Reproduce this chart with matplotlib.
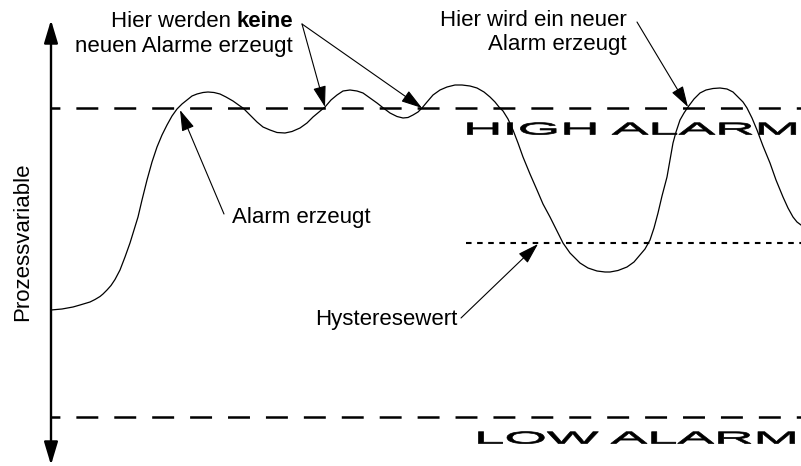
import matplotlib
matplotlib.use('Agg')
import matplotlib.pyplot as plt
from matplotlib import patheffects
from matplotlib.transforms import Affine2D

plt.rcParams['font.family'] = ['Liberation Sans', 'DejaVu Sans']
plt.rcParams['lines.scale_dashes'] = False

# process variable (pixel coords, y grows downwards)
curve_x = [51, 62, 73, 80, 90, 95, 100, 103, 107, 111, 115, 120, 125, 130, 134, 138, 142,
           147, 152, 157, 162, 167, 172, 177, 182, 187, 192, 197, 203, 208, 214, 220, 226,
           233, 240, 243, 250, 257, 263, 270, 277, 285, 292, 300, 307, 313, 319, 325, 331,
           337, 343, 350, 357, 363, 370, 377, 384, 390, 397, 403, 408, 413, 418, 422,
           427, 433, 440, 447, 455, 462, 470, 477, 484, 490, 495, 499, 503, 508, 513,
           518, 523, 530, 537, 543, 550, 557, 563, 570, 580, 588, 597, 605, 610, 618,
           627, 634, 640, 645, 650, 654, 658, 662, 667, 670, 673, 676, 680, 684, 688,
           694, 700, 706, 713, 720, 727, 733, 738, 743, 747, 752, 757, 763, 770, 776,
           783, 788, 793, 797, 801]
curve_y = [310, 309, 307, 305, 302, 299.5, 296.5, 294, 290, 285.5, 279.5, 270, 257, 243, 230,
           217, 200, 180, 162, 147, 135, 125, 116, 109, 104, 100, 96, 94, 92.5, 92, 92.5,
           94, 97, 101, 106, 108, 115, 122, 127, 130, 132.5, 133, 131.5, 128, 123, 117, 112,
           107, 100, 95, 91, 90, 91, 93, 98, 103, 108.5, 113, 116.5, 118, 117.5, 115, 112,
           108, 102, 95, 90, 87, 85, 85, 86, 88, 92, 97, 102, 107, 111, 119, 130,
           143, 157, 174, 190, 204, 217, 231, 243, 253, 263, 268, 271, 272, 272, 270.5,
           267, 262, 255, 249, 240, 228, 213, 196, 177, 160, 143, 132, 120, 113, 107,
           99, 93, 90, 88.5, 88, 89, 92, 97, 102, 108, 118, 130, 146, 163, 180,
           197, 208, 217, 222, 225]

high_alarm = 108
low_alarm = 417
hysteresis = 243
hyst_start = 466
axis_x = 51

# annotation arrows: (text end, arrow tip)
arrows = [((224, 214), (180, 110)),
          ((302, 24), (325, 107)),
          ((302, 24), (422, 108)),
          ((637, 22), (688, 107)),
          ((461, 318), (538, 244))]


class Stretch(patheffects.AbstractPathEffect):
    # the original uses a heavy extended typeface, widen the glyphs instead
    def __init__(self, sx, lw=0.0):
        super().__init__()
        self.sx = sx
        self.lw = lw

    def draw_path(self, renderer, gc, tpath, affine, rgbFace=None):
        gc0 = renderer.new_gc()
        gc0.copy_properties(gc)
        gc0.set_linewidth(self.lw)
        gc0.set_foreground('black')
        renderer.draw_path(gc0, tpath, Affine2D().scale(self.sx, 1) + affine, rgbFace)
        gc0.restore()


fig = plt.figure(figsize=(8.01, 4.66), dpi=100)
ax = fig.add_axes([0, 0, 1, 1])
ax.set_xlim(0, 801)
ax.set_ylim(466, 0)
ax.axis('off')

# alarm limits
for lvl in (high_alarm, low_alarm):
    ax.plot([axis_x, 801], [lvl, lvl], color='black', lw=1.8,
            linestyle=(9.4, (15.8, 11.5)), dash_capstyle='butt')
ax.plot([hyst_start, 801], [hysteresis, hysteresis], color='black', lw=1.5,
        linestyle=(0, (4, 4)), dash_capstyle='butt')

ax.plot(curve_x, curve_y, color='black', lw=0.9)

# y axis with arrows on both ends
ax.annotate('', xy=(axis_x, 20), xytext=(axis_x, 465),
            arrowprops=dict(arrowstyle='<|-|>,head_length=1.4,head_width=0.42',
                            lw=1.7, color='black', shrinkA=0, shrinkB=0,
                            mutation_scale=10))

for tail, tip in arrows:
    ax.annotate('', xy=tip, xytext=tail,
                arrowprops=dict(arrowstyle='-|>,head_length=1.3,head_width=0.4',
                                lw=0.8, color='black', shrinkA=0, shrinkB=0,
                                mutation_scale=10))

fs = 16
ax.text(231, 27, 'Hier werden', ha='right', va='baseline', fontsize=fs)
ax.text(293, 27, 'keine', ha='right', va='baseline', fontsize=fs, fontweight='bold')
ax.text(293, 52, 'neuen Alarme erzeugt', ha='right', va='baseline', fontsize=fs)
ax.text(627, 26, 'Hier wird ein neuer', ha='right', va='baseline', fontsize=fs)
ax.text(627, 50, 'Alarm erzeugt', ha='right', va='baseline', fontsize=fs)
ax.text(232, 223, 'Alarm erzeugt', ha='left', va='baseline', fontsize=fs)
ax.text(315, 325, 'Hysteresewert', ha='left', va='baseline', fontsize=fs)
ax.text(22.4, 242, 'Prozessvariable', rotation=90, ha='center', va='center', fontsize=fs)

ax.text(463, 134.5, 'HIGH ALARM', ha='left', va='baseline', fontsize=12.3,
        path_effects=[Stretch(3.2, 0.5)])
ax.text(474, 443.5, 'LOW ALARM', ha='left', va='baseline', fontsize=12.3,
        path_effects=[Stretch(3.2, 0.5)])

fig.savefig('out.png', dpi=100)
